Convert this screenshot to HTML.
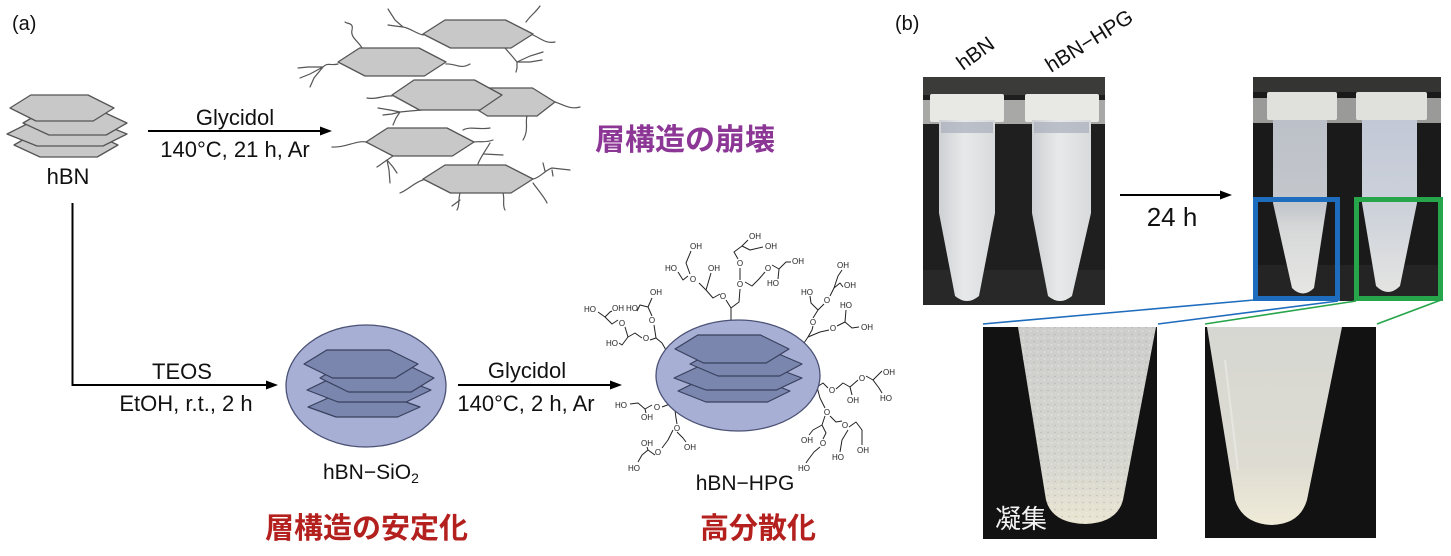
<!DOCTYPE html>
<html>
<head>
<meta charset="utf-8">
<style>
html,body{margin:0;padding:0;background:#fff;}
body{width:1451px;height:556px;overflow:hidden;position:relative;}
svg{position:absolute;left:0;top:0;}
.t{font-family:"Liberation Sans",Arial,sans-serif;fill:#111;}
.jp{font-family:"Liberation Sans","Noto Sans CJK JP",sans-serif;font-weight:bold;}
.jpn{font-family:"Liberation Sans","Noto Sans CJK JP",sans-serif;font-weight:normal;}
.ch{font-family:"Liberation Sans",Arial,sans-serif;font-size:8px;fill:#222;text-anchor:middle;}
</style>
</head>
<body>
<svg width="1451" height="556" viewBox="0 0 1451 556" xmlns="http://www.w3.org/2000/svg">
<defs>
  <linearGradient id="tubeA" x1="0" y1="0" x2="1" y2="0">
    <stop offset="0" stop-color="#cdd0d3"/><stop offset="0.45" stop-color="#e8e9ea"/><stop offset="1" stop-color="#d8dadc"/>
  </linearGradient>
  <linearGradient id="tubeL2" x1="0" y1="0" x2="0" y2="1">
    <stop offset="0" stop-color="#bcc0c8"/><stop offset="0.5" stop-color="#c4c7cc"/><stop offset="0.62" stop-color="#d6d8d8"/><stop offset="1" stop-color="#e6e6e4"/>
  </linearGradient>
  <linearGradient id="tubeR2" x1="0" y1="0" x2="0" y2="1">
    <stop offset="0" stop-color="#c2c8d6"/><stop offset="0.5" stop-color="#ccd1da"/><stop offset="1" stop-color="#e4e4e2"/>
  </linearGradient>
  <linearGradient id="zL" x1="0" y1="0" x2="0" y2="1">
    <stop offset="0" stop-color="#cdcecc"/><stop offset="0.7" stop-color="#d6d6d0"/><stop offset="1" stop-color="#ebe6d2"/>
  </linearGradient>
  <linearGradient id="zR" x1="0" y1="0" x2="0" y2="1">
    <stop offset="0" stop-color="#d6d7d2"/><stop offset="0.7" stop-color="#dedcd2"/><stop offset="1" stop-color="#f0ebd8"/>
  </linearGradient>
  <pattern id="sp" width="7" height="7" patternUnits="userSpaceOnUse">
    <circle cx="1.5" cy="2" r="0.9" fill="#f4f4f2"/><circle cx="5" cy="5.5" r="0.8" fill="#a0a09c"/><circle cx="5.5" cy="1" r="0.5" fill="#eeeeec"/>
  </pattern>
</defs>

<!-- ===================== (a) ===================== -->
<text class="t" x="12" y="30" font-size="20">(a)</text>

<!-- hBN stack -->
<g fill="#c8c8c8" stroke="#555" stroke-width="1.3" stroke-linejoin="round">
  <polygon points="14,145 34.8,133 92,133 118,145 97.2,157 40,157"/>
  <polygon points="7,134 31,122 97,122 127,134 103,146 37,146"/>
  <polygon points="23,123 43.8,111 101,111 127,123 106.2,135 49,135"/>
  <polygon points="10,108 30.8,95 88,95 114,108 93.2,121 36,121"/>
</g>
<text class="t" x="68" y="184" font-size="22" text-anchor="middle">hBN</text>

<!-- arrow 1 -->
<line x1="148" y1="131" x2="322" y2="131" stroke="#000" stroke-width="2"/>
<polygon points="332,131 320,126.5 320,135.5" fill="#000"/>
<text class="t" x="235" y="125" font-size="22" text-anchor="middle">Glycidol</text>
<text class="t" x="235" y="157" font-size="22" text-anchor="middle">140°C, 21 h, Ar</text>

<!-- exfoliated sheets -->
<g fill="none" stroke="#555" stroke-width="1.2" stroke-linecap="round">
  <path d="M363,50 C360,42 350,38 352,30 S346,24 345,22"/>
  <path d="M338,64 C330,66 328,62 323,67 M323,67 L308,67 L298,68 M323,67 L310,74 L300,78 M323,67 L314,78 L310,87"/>
  <path d="M446,64 C455,63 460,70 470,64"/>
  <path d="M423,35 C415,33 410,28 403,27 M403,27 L395,20 L388,9 M403,27 L395,26 L388,25"/>
  <path d="M526,22 C530,16 536,12 540,6"/>
  <path d="M533,35 C540,38 546,44 555,42"/>
  <path d="M505,48 L512,56 L517,62 M517,62 L530,56 L543,52 M517,62 L530,62 L542,60 M517,62 L517,68 L516,72"/>
  <path d="M392,96 C385,95 375,100 367,98"/>
  <path d="M422,110 L410,111 L400,112 M400,112 L390,110 L378,108 M400,112 L392,114 L383,115 M400,112 L396,118 L393,125"/>
  <path d="M555,102 C562,104 570,110 580,107"/>
  <path d="M527,116 C525,122 529,130 523,140"/>
  <path d="M366,142 C357,140 345,148 332,147"/>
  <path d="M393,156 L387,160 M387,160 L380,165 L377,167 M387,160 L389,170 L390,183 M387,160 L393,167 L397,173"/>
  <path d="M463,130 C470,126 480,130 490,128"/>
  <path d="M474,142 C480,141 485,143 493,140"/>
  <path d="M478,164 C480,158 486,150 490,143 M484,154 L503,155"/>
  <path d="M533,179 C540,178 545,170 552,168 L570,170 M545,171 L543,163 M552,170 L553,176"/>
  <path d="M423,180 C415,182 408,190 400,193"/>
  <path d="M460,193 C458,200 460,205 457,210 M460,200 L452,206"/>
  <path d="M503,193 C505,200 502,205 505,210"/>
  <path d="M533,183 C538,190 545,198 547,203"/>
</g>
<g fill="#c8c8c8" stroke="#555" stroke-width="1.3" stroke-linejoin="round">
  <polygon points="423,34 445,20 505.5,20 533,34 511,48 450.5,48"/>
  <polygon points="338,62 359.6,48 419,48 446,62 424.4,76 365,76"/>
  <polygon points="465,102 483,88 532.5,88 555,102 537,116 487.5,116"/>
  <polygon points="392,95 414,80 474.5,80 502,95 480,110 419.5,110"/>
  <polygon points="366,142 387.6,128 447,128 474,142 452.4,156 393,156"/>
  <polygon points="423,179 445,165 505.5,165 533,179 511,193 450.5,193"/>
</g>
<text class="jp" x="595" y="150" font-size="30" fill="#8c3796">層構造の崩壊</text>

<!-- down and right path to SiO2 -->
<polyline points="72.5,203 72.5,385 268,385" fill="none" stroke="#000" stroke-width="2"/>
<polygon points="278,385 266,380.5 266,389.5" fill="#000"/>
<text class="t" x="182" y="379" font-size="22" text-anchor="middle">TEOS</text>
<text class="t" x="186" y="411" font-size="22" text-anchor="middle">EtOH, r.t., 2 h</text>

<!-- hBN-SiO2 -->
<ellipse cx="366" cy="386" rx="80" ry="61" fill="#a7afd4" stroke="#4b5275" stroke-width="1.3"/>
<g fill="#7a86ad" stroke="#39405e" stroke-width="1.2" stroke-linejoin="round">
  <polygon points="308,407 330.4,397 392,397 420,407 397.6,417 336,417"/>
  <polygon points="307,390 331.8,378 400,378 431,390 406.2,402 338,402"/>
  <polygon points="320,378 342.8,364 405.5,364 434,378 411.2,392 348.5,392"/>
  <polygon points="304,364 326.8,350 389.5,350 418,364 395.2,378 332.5,378"/>
</g>
<text class="t" x="323" y="479" font-size="21">hBN−SiO<tspan font-size="14" dy="4">2</tspan></text>
<text class="jp" x="265" y="538" font-size="29" fill="#b3201d">層構造の安定化</text>

<!-- arrow 2 -->
<line x1="458" y1="385" x2="612" y2="385" stroke="#000" stroke-width="2"/>
<polygon points="622,385 610,380.5 610,389.5" fill="#000"/>
<text class="t" x="527" y="378" font-size="22" text-anchor="middle">Glycidol</text>
<text class="t" x="526" y="411" font-size="22" text-anchor="middle">140°C, 2 h, Ar</text>

<!-- HPG branches -->
<g fill="none" stroke="#222" stroke-width="1" stroke-linejoin="round">
  <path d="M731,320 V308 L726,300"/>
  <path d="M731,308 L739,302 L740,289"/>
  <path d="M720,294 L713,298 L706,290 L699,283"/>
  <path d="M706,290 L711,273"/>
  <path d="M688,276 L683,280 L678,272"/>
  <path d="M690,274 L686,263 L691,251"/>
  <path d="M745,282 L752,286 L759,279 L765,272"/>
  <path d="M740,280 L740,268"/>
  <path d="M738,259 L734,252 L742,246 L748,240"/>
  <path d="M742,246 L750,250 L763,247"/>
  <path d="M772,265 L779,269 L786,262 L791,262"/>
  <path d="M779,269 L778,279"/>
  <path d="M666,350 L662,343 L656,338 L650,340"/>
  <path d="M656,338 L654,325"/>
  <path d="M652,316 L648,307 L652,298"/>
  <path d="M648,307 L640,305 L637,311"/>
  <path d="M642,338 L635,333 L628,337 L625,327"/>
  <path d="M628,337 L622,345 L619,343"/>
  <path d="M618,320 L612,324 L605,317 L598,312"/>
  <path d="M605,317 L610,312 L612,311"/>
  <path d="M804,343 L808,337 L812,330 L813,326"/>
  <path d="M813,318 L818,310 L824,304"/>
  <path d="M818,310 L811,303 L810,296"/>
  <path d="M830,296 L834,288 L840,283 L843,287"/>
  <path d="M834,288 L838,276 L842,270"/>
  <path d="M808,337 L820,332 L829,330"/>
  <path d="M837,326 L845,322 L852,328 L859,327"/>
  <path d="M845,322 L846,310"/>
  <path d="M817,387 L823,383 L828,388"/>
  <path d="M836,389 L843,383 L850,387 L858,380"/>
  <path d="M850,387 L852,395"/>
  <path d="M866,376 L873,380 L879,374 L882,371"/>
  <path d="M873,380 L879,388 L882,393"/>
  <path d="M817,387 L820,398 L825,408"/>
  <path d="M830,416 L836,422 L842,421"/>
  <path d="M849,427 L856,422 L862,430 L862,445"/>
  <path d="M825,416 L822,425 L826,433 L823,439"/>
  <path d="M822,425 L813,430 L809,435"/>
  <path d="M820,447 L814,452 L808,460 L806,463"/>
  <path d="M848,430 L842,440 L840,452"/>
  <path d="M679,404 L675,410 L670,404 L662,407"/>
  <path d="M652,405 L645,409 L638,403 L630,404"/>
  <path d="M645,409 L646,413"/>
  <path d="M675,410 L676,418 L677,424"/>
  <path d="M677,432 L683,438 L686,442"/>
  <path d="M673,430 L668,440 L662,448"/>
  <path d="M655,455 L648,450 L642,455 L638,462"/>
  <path d="M648,450 L647,447"/>
</g>
<g class="ch">
  <text x="723" y="299">O</text><text x="740" y="287">O</text><text x="740" y="266">O</text><text x="768" y="271">O</text><text x="693" y="282">O</text>
  <text x="755" y="239">OH</text><text x="771" y="249">OH</text><text x="798" y="264">OH</text><text x="773" y="286">HO</text><text x="696" y="249">OH</text><text x="671" y="271">HO</text><text x="714" y="271">OH</text>
  <text x="656" y="295">OH</text><text x="590" y="312">HO</text><text x="618" y="311">OH</text><text x="632" y="311">HO</text><text x="622" y="326">O</text><text x="652" y="323">O</text><text x="646" y="341">O</text><text x="612" y="346">HO</text>
  <text x="843" y="268">OH</text><text x="850" y="288">OH</text><text x="807" y="295">HO</text><text x="827" y="303">O</text><text x="846" y="308">HO</text><text x="867" y="330">OH</text><text x="813" y="325">O</text><text x="833" y="331">O</text>
  <text x="832" y="393">O</text><text x="862" y="381">O</text><text x="889" y="375">OH</text><text x="853" y="403">OH</text><text x="886" y="401">HO</text>
  <text x="827" y="415">O</text><text x="845" y="428">O</text><text x="807" y="443">OH</text><text x="823" y="446">O</text><text x="863" y="453">OH</text><text x="838" y="460">HO</text><text x="804" y="471">HO</text>
  <text x="621" y="408">HO</text><text x="657" y="410">O</text><text x="647" y="420">OH</text><text x="677" y="431">O</text><text x="690" y="450">OH</text><text x="647" y="446">OH</text><text x="658" y="455">O</text><text x="634" y="471">HO</text>
</g>

<!-- hBN-HPG -->
<ellipse cx="738" cy="375.5" rx="82" ry="55.5" fill="#a7afd4" stroke="#4b5275" stroke-width="1.3"/>
<g fill="#7a86ad" stroke="#39405e" stroke-width="1.2" stroke-linejoin="round">
  <polygon points="678,391 700.4,380 762,380 790,391 767.6,402 706,402"/>
  <polygon points="674,378 699.6,366 770,366 802,378 776.4,390 706,390"/>
  <polygon points="690,364 712.4,352 774,352 802,364 779.6,376 718,376"/>
  <polygon points="675,349 697.8,335 760.5,335 789,349 766.2,363 703.5,363"/>
</g>
<text class="t" x="745" y="490" font-size="21" text-anchor="middle">hBN−HPG</text>
<text class="jp" x="700" y="538" font-size="29" fill="#b3201d">高分散化</text>

<!-- ===================== (b) ===================== -->
<text class="t" x="895" y="30" font-size="20">(b)</text>
<text class="t" x="963" y="71" font-size="21" transform="rotate(-36 963 71)">hBN</text>
<text class="t" x="1051" y="73" font-size="21" transform="rotate(-32 1051 73)">hBN−HPG</text>

<!-- photo 1 -->
<rect x="923" y="77" width="182" height="228" fill="#1f1f1f"/>
<rect x="923" y="77" width="182" height="18" fill="#3b3b39"/>
<rect x="923" y="100" width="182" height="24" fill="#a8a8a6"/>
<rect x="923" y="270" width="182" height="35" fill="#282828"/>
<rect x="930" y="94" width="74" height="28" rx="2" fill="#e8e8e4"/>
<rect x="1025" y="94" width="74" height="28" rx="2" fill="#e8e8e4"/>
<path d="M939,120 L995,120 L995,213 L979,296 Q967,306 955,296 L939,213 Z" fill="url(#tubeA)"/>
<path d="M1032,120 L1091,120 L1091,213 L1072,296 Q1060,306 1048,296 L1032,213 Z" fill="url(#tubeA)"/>
<rect x="941" y="122" width="52" height="11" fill="#a8aebb" opacity="0.7"/>
<rect x="1034" y="122" width="55" height="11" fill="#a8aebb" opacity="0.7"/>

<!-- 24 h arrow -->
<line x1="1120" y1="195" x2="1222" y2="195" stroke="#000" stroke-width="2"/>
<polygon points="1232,195 1220,190.5 1220,199.5" fill="#000"/>
<text class="t" x="1172" y="226" font-size="26" text-anchor="middle">24 h</text>

<!-- photo 2 -->
<rect x="1253" y="77" width="188" height="224" fill="#1a1a1a"/>
<rect x="1253" y="77" width="188" height="15" fill="#343432"/>
<rect x="1253" y="98" width="188" height="25" fill="#9a9a98"/>
<rect x="1253" y="265" width="188" height="36" fill="#242424"/>
<rect x="1267" y="92" width="70" height="28" rx="2" fill="#e0e0dc"/>
<rect x="1356" y="92" width="71" height="28" rx="2" fill="#e0e0dc"/>
<path d="M1273,120 L1327,120 L1327,203 L1314,288 Q1303,299 1292,288 L1273,203 Z" fill="url(#tubeL2)"/>
<path d="M1362,120 L1417,120 L1417,203 L1400,286 Q1388,298 1376,286 L1362,203 Z" fill="url(#tubeR2)"/>
<rect x="1255.5" y="199.5" width="82" height="99" fill="none" stroke="#1e6cbd" stroke-width="5"/>
<rect x="1356.5" y="199.5" width="84" height="99" fill="none" stroke="#27a54a" stroke-width="5"/>

<!-- connectors -->
<line x1="1254" y1="300" x2="983" y2="324" stroke="#1e6cbd" stroke-width="1.6"/>
<line x1="1338" y1="301" x2="1158" y2="324" stroke="#1e6cbd" stroke-width="1.6"/>
<line x1="1356" y1="301" x2="1205" y2="324" stroke="#27a54a" stroke-width="1.6"/>
<line x1="1441" y1="300" x2="1377" y2="324" stroke="#27a54a" stroke-width="1.6"/>

<!-- bottom-left zoom photo -->
<rect x="983" y="327" width="174" height="212" fill="#121212"/>
<path d="M1018,327 L1156,327 L1123,500 Q1117,523 1085,524 Q1052,523 1046,500 Z" fill="url(#zL)"/>
<path d="M1018,327 L1156,327 L1123,500 Q1117,523 1085,524 Q1052,523 1046,500 Z" fill="url(#sp)" opacity="0.5"/>
<text class="jpn" x="995" y="528" font-size="26" fill="#f2f2f2">凝集</text>

<!-- bottom-right zoom photo -->
<rect x="1205" y="327" width="171" height="211" fill="#121212"/>
<path d="M1207,327 L1342,327 L1307,500 Q1300,524 1272,525 Q1243,524 1235,500 Z" fill="url(#zR)"/>
<line x1="1225" y1="360" x2="1238" y2="470" stroke="#eeeeea" stroke-width="2" opacity="0.6"/>
</svg>
</body>
</html>
